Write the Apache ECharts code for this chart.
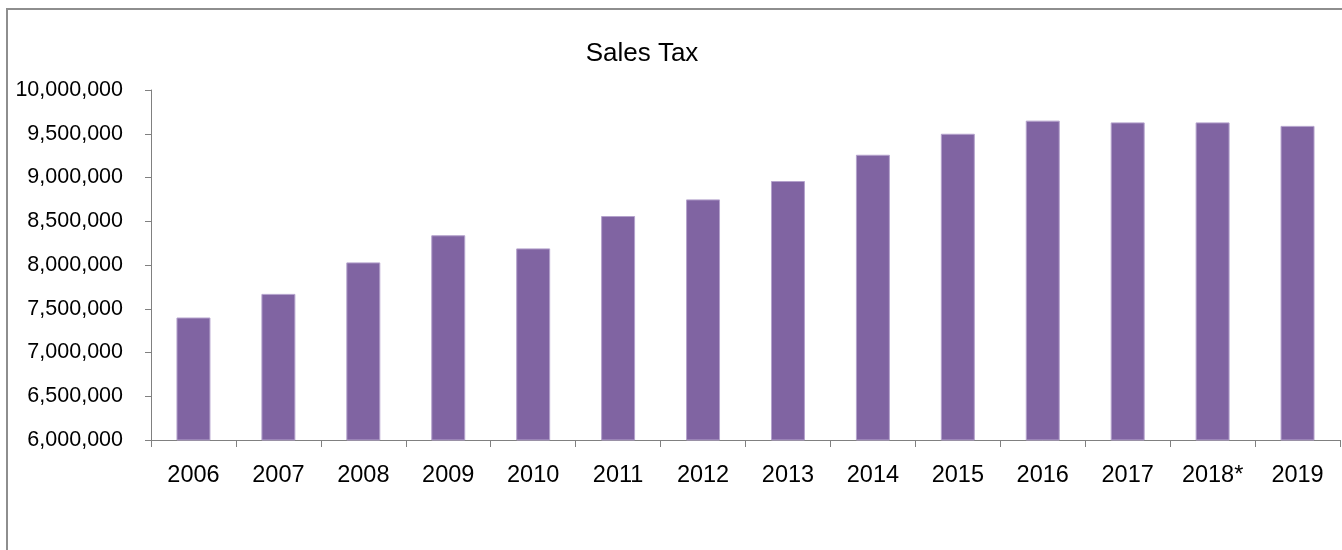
<!DOCTYPE html>
<html>
<head>
<meta charset="utf-8">
<script src="https://cdn.jsdelivr.net/npm/echarts@6/dist/echarts.min.js"></script>
<style>
  html, body { margin: 0; padding: 0; background: #fff; }
  #chart { width: 1342px; height: 550px; }
</style>
</head>
<body>
<div id="chart"></div>
<script>
// Annual sales tax receipts
const years = ['2006', '2007', '2008', '2009', '2010', '2011', '2012', '2013', '2014', '2015', '2016', '2017', '2018*', '2019'];
const salesTax = [7400000, 7670000, 8030000, 8340000, 8190000, 8560000, 8750000, 8960000, 9260000, 9500000, 9650000, 9630000, 9630000, 9590000];

// Value axis range and step
const yMin = 6000000;
const yMax = 10000000;
const yStep = 500000;

const fontFamily = '"Liberation Sans", Arial, sans-serif';
const axisGray = '#808080';

const chart = echarts.init(document.getElementById('chart'), null, { renderer: 'canvas' });

chart.setOption({
  animation: false,
  backgroundColor: '#ffffff',
  title: {
    text: 'Sales Tax',
    left: 637,
    textAlign: 'center',
    top: 36,
    textStyle: { fontFamily, fontSize: 26, fontWeight: 'normal', color: '#000' }
  },
  graphic: [{
    type: 'rect',
    shape: { x: 7, y: 9, width: 1400, height: 600 },
    style: { fill: 'none', stroke: '#8e8e8e', lineWidth: 2 },
    silent: true
  }],
  grid: { left: 151, right: 2, top: 90, bottom: 110, containLabel: false },
  xAxis: {
    type: 'category',
    data: years,
    boundaryGap: true,
    axisLine: { lineStyle: { color: axisGray, width: 1 } },
    axisTick: { show: true, length: 7, alignWithLabel: false, lineStyle: { color: axisGray } },
    axisLabel: { fontFamily, fontSize: 23.5, color: '#000', margin: 24, interval: 0 },
    splitLine: { show: false }
  },
  yAxis: {
    type: 'value',
    min: yMin,
    max: yMax,
    interval: yStep,
    axisLine: { show: true, lineStyle: { color: axisGray, width: 1 } },
    axisTick: { show: true, length: 6, lineStyle: { color: axisGray } },
    axisLabel: {
      fontFamily, fontSize: 21.5, color: '#000', margin: 28,
      formatter: v => v.toLocaleString('en-US')
    },
    splitLine: { show: false }
  },
  series: [{
    type: 'bar',
    data: salesTax,
    barWidth: '40%',
    itemStyle: { color: '#8064A2', borderColor: '#b4a2cc', borderWidth: 1 }
  }]
});
</script>
</body>
</html>
